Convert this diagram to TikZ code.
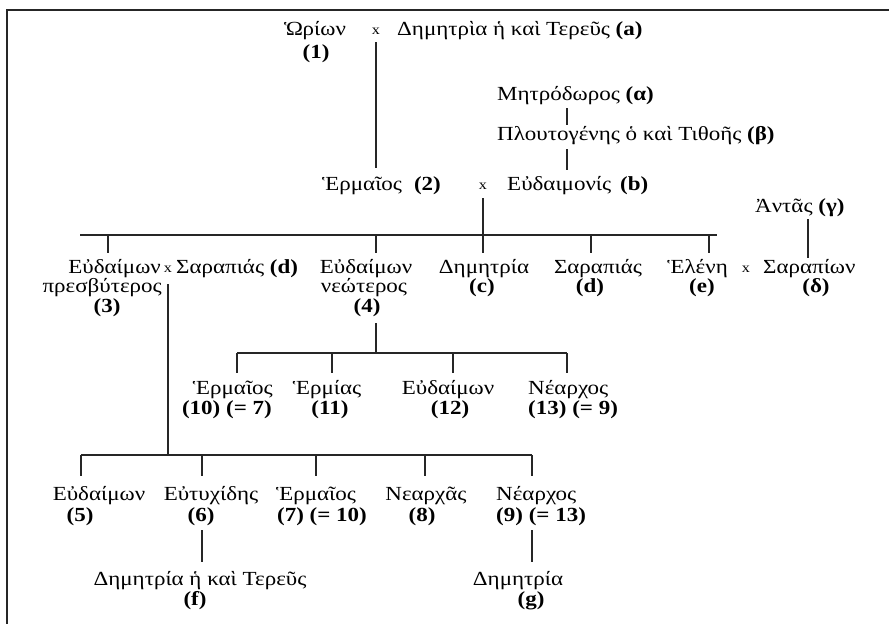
\documentclass[tikz,border=0pt]{standalone}
\usepackage{fontspec}
\setmainfont{Liberation Serif}[FakeStretch=1.15]
\usetikzlibrary{calc}
\begin{document}
\begin{tikzpicture}[x=1pt,y=-1pt,
  t/.style={anchor=base, inner sep=0pt, font=\fontsize{20}{22}\selectfont},
  tw/.style={t, anchor=base west},
  te/.style={t, anchor=base east},
  xm/.style={anchor=base, inner sep=0pt, font=\fontsize{14}{16}\selectfont},
  ln/.style={line width=1.1pt, draw=black!85}]
\useasboundingbox (0,0) rectangle (889,624);
\fill[white] (0,0) rectangle (889,624);
% frame
\draw[line width=2pt, black!85] (889,10) -- (7,10) -- (7,624);

% ---- generation 0 ----
\node[t] (orion) at (315,35) {Ὡρίων};
\node[t] (n1) at (316,58) {\textbf{(1)}};
\node[xm] (x0) at (376,34) {x};
\node[tw] (dema) at (397,35) {Δημητρὶα ἡ καὶ Τερεῦς \textbf{(a)}};
\node[tw] (metro) at (497,100) {Μητρόδωρος \textbf{(α)}};
\node[tw] (plout) at (497,140) {Πλουτογένης ὁ καὶ Τιθοῆς \textbf{(β)}};
\node[tw] (herm2) at (322,190) {Ἑρμαῖος\hspace{12pt}\textbf{(2)}};
\node[xm] (x2) at (483,189) {x};
\node[tw] (eudb) at (507,190) {Εὐδαιμονίς\hspace{9pt}\textbf{(b)}};
\node[tw] (antas) at (755,212) {Ἀντᾶς \textbf{(γ)}};

\coordinate (k0) at (376,0);
\coordinate (km) at (567,0);
\coordinate (ka) at (808,0);
\draw[ln] ($(x0.base)+(0,8)$) -- (k0 |- 0,168);
\draw[ln] ($(km |- metro.base)+(0,8)$) -- (km |- 0,125);
\draw[ln] ($(km |- plout.base)+(0,9)$) -- (km |- 0,170);

% ---- generation 1 ----
\node[te] (eud3) at (161,273) {Εὐδαίμων};
\node[xm] (x3) at (168,272) {x};
\node[tw] (sard3) at (176,273) {Σαραπιάς \textbf{(d)}};
\node[te] (presb) at (162,292) {πρεσβύτερος};
\node[t] (n3) at (107,312) {\textbf{(3)}};
\node[t] (eud4) at (366,273) {Εὐδαίμων};
\node[t] (neo) at (364,292) {νεώτερος};
\node[t] (n4) at (367,312) {\textbf{(4)}};
\node[t] (demc) at (484,273) {Δημητρία};
\node[t] (nc) at (482,292) {\textbf{(c)}};
\node[t] (sard) at (598,273) {Σαραπιάς};
\node[t] (nd) at (590,292) {\textbf{(d)}};
\node[te] (hel) at (728,273) {Ἑλένη};
\node[t] (ne) at (702,292) {\textbf{(e)}};
\node[xm] (x4) at (746,272) {x};
\node[tw] (sarp) at (763,273) {Σαραπίων};
\node[t] (ndel) at (816,292) {\textbf{(δ)}};

\draw[ln] ($(ka |- antas.base)+(0,7)$) -- (ka |- 0,258);

\coordinate (b1l) at (80,235);
\coordinate (b1r) at (717,235);
\coordinate (r1) at (0,253);
\coordinate (k3) at (108,0);
\coordinate (kd) at (591,0);
\coordinate (ke) at (709,0);
\draw[ln] (b1l) -- (b1r);
\draw[ln] ($(x2.base)+(0,9)$) -- (x2 |- r1);
\draw[ln] (b1l -| k3) -- (k3 |- r1);
\draw[ln] (b1l -| k0) -- (k0 |- r1);
\draw[ln] (b1l -| kd) -- (kd |- r1);
\draw[ln] (b1l -| ke) -- (ke |- r1);

% ---- generation 2 (children of 4) ----
\node[te] (h10) at (273,394) {Ἑρμαῖος};
\node[te] (n10) at (272,414) {\textbf{(10) (= 7)}};
\node[t] (h11) at (327,394) {Ἑρμίας};
\node[t] (n11) at (330,414) {\textbf{(11)}};
\node[t] (e12) at (448,394) {Εὐδαίμων};
\node[t] (n12) at (450,414) {\textbf{(12)}};
\node[tw] (ne13) at (528,394) {Νέαρχος};
\node[tw] (n13) at (528,414) {\textbf{(13) (= 9)}};

\coordinate (b2l) at (237,353);
\coordinate (b2r) at (567,353);
\coordinate (r2) at (0,373);
\coordinate (k11) at (332,0);
\coordinate (k12) at (453,0);
\draw[ln] ($(k0 |- n4.base)+(0,11)$) -- (b2l -| k0);
\draw[ln] (b2l) -- (b2r);
\draw[ln] (b2l) -- (b2l |- r2);
\draw[ln] (b2l -| k11) -- (k11 |- r2);
\draw[ln] (b2l -| k12) -- (k12 |- r2);
\draw[ln] (b2r) -- (b2r |- r2);

% ---- generation 2 (children of 3) ----
\node[t] (eud5) at (99,500) {Εὐδαίμων};
\node[t] (n5) at (80,521) {\textbf{(5)}};
\node[t] (eut6) at (211,500) {Εὐτυχίδης};
\node[t] (n6) at (201,521) {\textbf{(6)}};
\node[t] (h7) at (316,500) {Ἑρμαῖος};
\node[t] (n7) at (322,521) {\textbf{(7) (= 10)}};
\node[t] (nch) at (426,500) {Νεαρχᾶς};
\node[t] (n8) at (422,521) {\textbf{(8)}};
\node[tw] (ne9) at (496,500) {Νέαρχος};
\node[tw] (n9) at (496,521) {\textbf{(9) (= 13)}};

\coordinate (b3l) at (81,455);
\coordinate (b3r) at (532,455);
\coordinate (r3) at (0,476);
\coordinate (k6) at (202,0);
\coordinate (k7) at (316,0);
\coordinate (k8) at (425,0);
\draw[ln] ($(x3.base)+(0,12)$) -- (b3l -| x3);
\draw[ln] (b3l) -- (b3r);
\draw[ln] (b3l) -- (b3l |- r3);
\draw[ln] (b3l -| k6) -- (k6 |- r3);
\draw[ln] (b3l -| k7) -- (k7 |- r3);
\draw[ln] (b3l -| k8) -- (k8 |- r3);
\draw[ln] (b3r) -- (b3r |- r3);

% ---- generation 3 ----
\node[t] (demf) at (200,585) {Δημητρία ἡ καὶ Τερεῦς};
\node[t] (nf) at (195,605) {\textbf{(f)}};
\node[t] (demg) at (518,585) {Δημητρία};
\node[t] (ng) at (531,605) {\textbf{(g)}};

\coordinate (r4) at (0,562);
\draw[ln] ($(k6 |- n6.base)+(0,9)$) -- (k6 |- r4);
\draw[ln] ($(b3r |- n9.base)+(0,9)$) -- (b3r |- r4);
\end{tikzpicture}
\end{document}
